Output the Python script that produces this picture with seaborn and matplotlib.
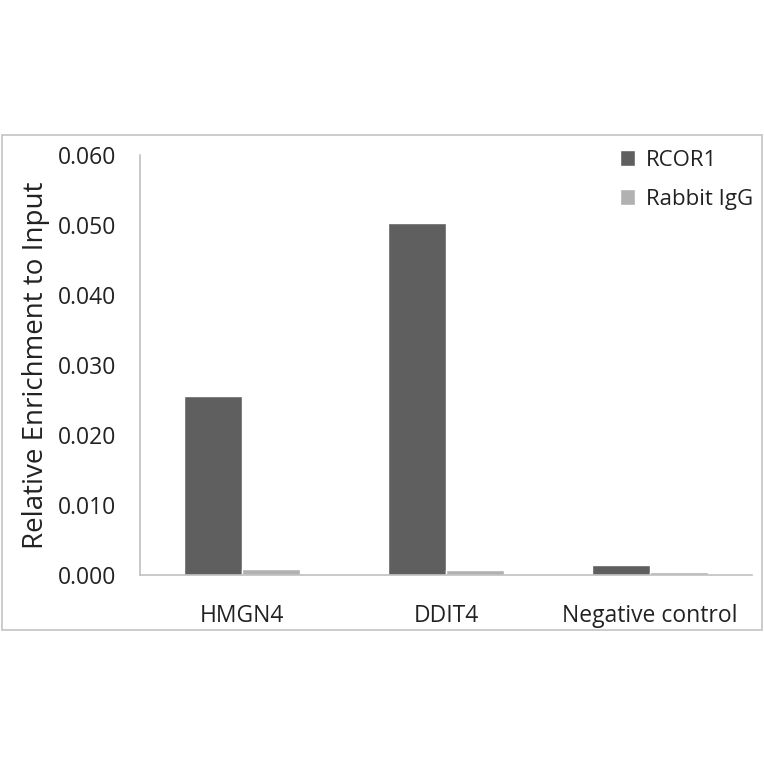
import pandas as pd
import numpy as np
import matplotlib.pyplot as plt
from matplotlib.patches import Rectangle
import seaborn as sns

# values
targets = ['HMGN4', 'DDIT4', 'Negative control']
rcor1 = [0.0256, 0.0503, 0.0014]
igg = [0.0009, 0.0007, 0.0005]
series = ['RCOR1', 'Rabbit IgG']
yticks = [0.000, 0.010, 0.020, 0.030, 0.040, 0.050, 0.060]

df = pd.DataFrame({
    'target': targets * 2,
    'value': rcor1 + igg,
    'antibody': [series[0]] * 3 + [series[1]] * 3,
})

sns.set_style('white')
plt.rcParams['font.family'] = ['Open Sans', 'DejaVu Sans']

fig = plt.figure(figsize=(7.64, 7.64), dpi=100)
# grey frame around the chart area
fig.patches.append(Rectangle((2 / 764, 134 / 764), 760 / 764, 495 / 764,
                             transform=fig.transFigure, fill=False,
                             edgecolor='#c4c4c4', linewidth=1.2))

ax = fig.add_axes([140 / 764, 189 / 764, 612 / 764, 420 / 764])
sns.barplot(data=df, x='target', y='value', hue='antibody',
            palette=['#5f5f5f', '#b1b1b1'], width=0.57, gap=0,
            saturation=1, ax=ax, errorbar=None)

ax.set_xlim(-0.5, 2.5)
ax.set_ylim(0, 0.06)
ax.set_yticks(yticks)
ax.set_yticklabels([f'{v:.3f}' for v in yticks])
ax.set_xlabel('')
ax.set_ylabel('Relative Enrichment to Input', fontsize=20, color='#222222', labelpad=6)

for s in ['top', 'right']:
    ax.spines[s].set_visible(False)
for s in ['left', 'bottom']:
    ax.spines[s].set_color('#c0c0c0')
    ax.spines[s].set_linewidth(1.2)

ax.set_xticks([-0.5, 0.5, 1.5, 2.5], minor=True)
ax.tick_params(axis='x', which='major', length=0, labelsize=16.5, pad=21, colors='#222222')
ax.tick_params(axis='x', which='minor', length=9, width=1.2, color='#c0c0c0', direction='out')
ax.tick_params(axis='y', length=8, width=1.2, color='#c0c0c0', direction='out',
               labelsize=16.5, labelcolor='#222222', pad=9)

ax.legend(loc='upper right', bbox_to_anchor=(1.035, 1.06), frameon=False,
          fontsize=16, handlelength=0.7, handleheight=0.7, handletextpad=0.5,
          labelspacing=0.8, labelcolor='#222222')

fig.savefig('out.png', dpi=100, facecolor='white')
